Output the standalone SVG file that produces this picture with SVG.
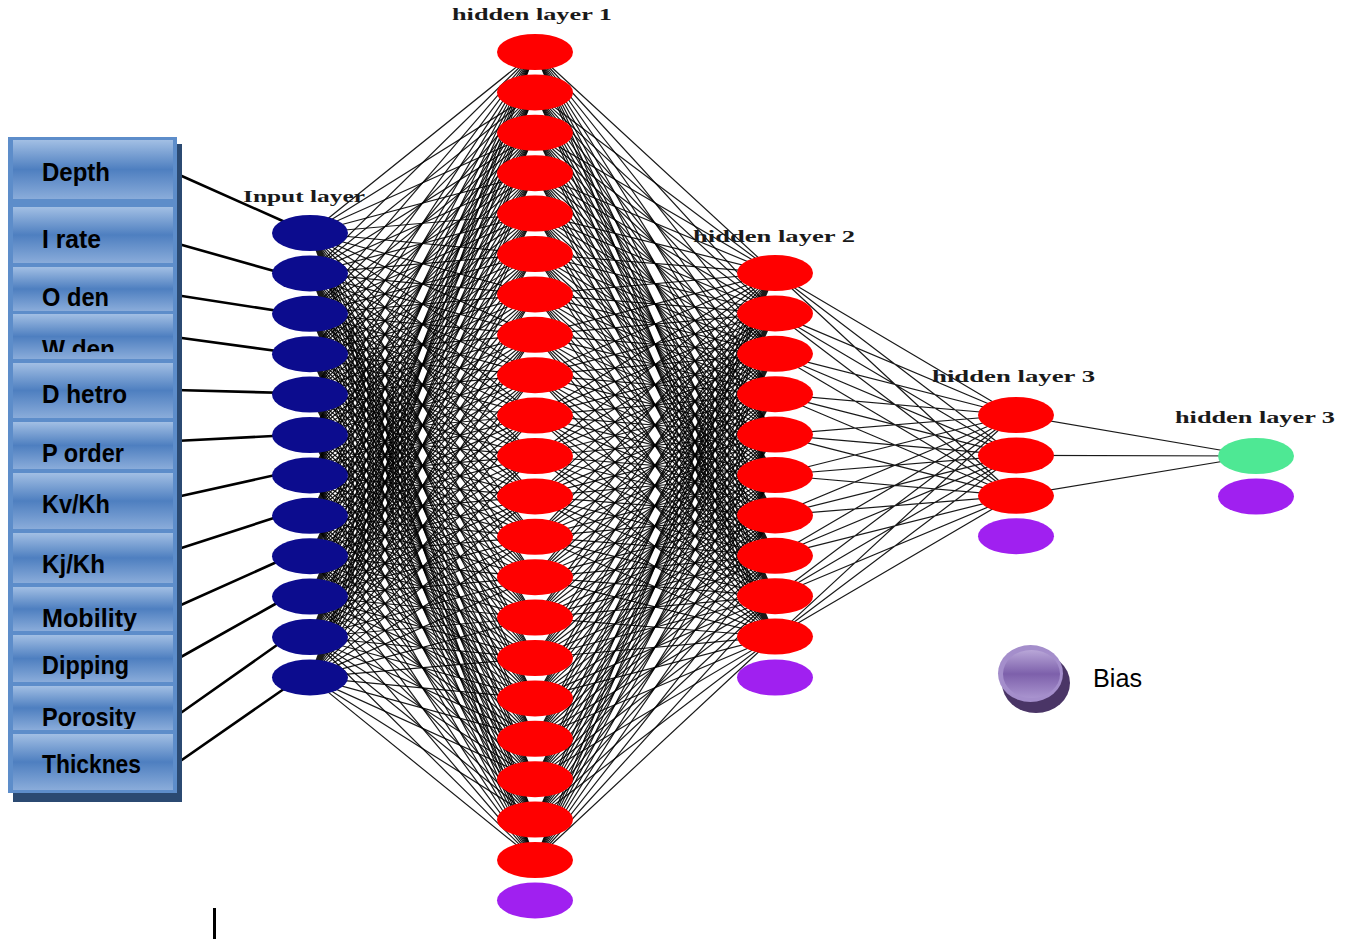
<svg xmlns="http://www.w3.org/2000/svg" width="1351" height="943" viewBox="0 0 1351 943">
<style>
.w{stroke:#000;stroke-width:1.2;fill:none;stroke-opacity:0.9}
.lk{stroke:#000;stroke-width:2.6;fill:none}
.nb{fill:#0c0c8e}
.nr{fill:#ff0000}
.np{fill:#a020f0}
.ng{fill:#4ee894}
.cell{fill:url(#cg)}
.lab{font-family:"Liberation Sans",Arial,sans-serif;font-weight:bold;font-size:25px;fill:#000}
.ttl{font-family:"Liberation Serif","Times New Roman",serif;font-weight:bold;font-size:17px;fill:#1a1a1a}
</style>
<defs>
<linearGradient id="cg" x1="0" y1="0" x2="0" y2="1">
<stop offset="0" stop-color="#a2bfe4"/>
<stop offset="0.5" stop-color="#4e7fc0"/>
<stop offset="1" stop-color="#8aacda"/>
</linearGradient>
<linearGradient id="bg" x1="0" y1="0" x2="0" y2="1">
<stop offset="0" stop-color="#b9a7d8"/>
<stop offset="0.5" stop-color="#7d60ab"/>
<stop offset="1" stop-color="#a994cf"/>
</linearGradient>
<clipPath id="c4"><rect x="0" y="300" width="200" height="52"/></clipPath>
<clipPath id="c9"><rect x="0" y="580" width="200" height="51"/></clipPath>
<clipPath id="c10"><rect x="0" y="630" width="200" height="51"/></clipPath>
<clipPath id="c11"><rect x="0" y="680" width="200" height="49"/></clipPath>
</defs>
<rect width="1351" height="943" fill="#fff"/>

<g id="connectors">
<path class="w" d="M310 233L535 52M310 233L535 92.4M310 233L535 132.8M310 233L535 173.2M310 233L535 213.6M310 233L535 254M310 233L535 294.4M310 233L535 334.8M310 233L535 375.2M310 233L535 415.6M310 233L535 456M310 233L535 496.4M310 233L535 536.8M310 233L535 577.2M310 233L535 617.6M310 233L535 658M310 233L535 698.4M310 233L535 738.8M310 233L535 779.2M310 233L535 819.6M310 233L535 860"/>
<path class="w" d="M310 273.4L535 52M310 273.4L535 92.4M310 273.4L535 132.8M310 273.4L535 173.2M310 273.4L535 213.6M310 273.4L535 254M310 273.4L535 294.4M310 273.4L535 334.8M310 273.4L535 375.2M310 273.4L535 415.6M310 273.4L535 456M310 273.4L535 496.4M310 273.4L535 536.8M310 273.4L535 577.2M310 273.4L535 617.6M310 273.4L535 658M310 273.4L535 698.4M310 273.4L535 738.8M310 273.4L535 779.2M310 273.4L535 819.6M310 273.4L535 860"/>
<path class="w" d="M310 313.8L535 52M310 313.8L535 92.4M310 313.8L535 132.8M310 313.8L535 173.2M310 313.8L535 213.6M310 313.8L535 254M310 313.8L535 294.4M310 313.8L535 334.8M310 313.8L535 375.2M310 313.8L535 415.6M310 313.8L535 456M310 313.8L535 496.4M310 313.8L535 536.8M310 313.8L535 577.2M310 313.8L535 617.6M310 313.8L535 658M310 313.8L535 698.4M310 313.8L535 738.8M310 313.8L535 779.2M310 313.8L535 819.6M310 313.8L535 860"/>
<path class="w" d="M310 354.2L535 52M310 354.2L535 92.4M310 354.2L535 132.8M310 354.2L535 173.2M310 354.2L535 213.6M310 354.2L535 254M310 354.2L535 294.4M310 354.2L535 334.8M310 354.2L535 375.2M310 354.2L535 415.6M310 354.2L535 456M310 354.2L535 496.4M310 354.2L535 536.8M310 354.2L535 577.2M310 354.2L535 617.6M310 354.2L535 658M310 354.2L535 698.4M310 354.2L535 738.8M310 354.2L535 779.2M310 354.2L535 819.6M310 354.2L535 860"/>
<path class="w" d="M310 394.6L535 52M310 394.6L535 92.4M310 394.6L535 132.8M310 394.6L535 173.2M310 394.6L535 213.6M310 394.6L535 254M310 394.6L535 294.4M310 394.6L535 334.8M310 394.6L535 375.2M310 394.6L535 415.6M310 394.6L535 456M310 394.6L535 496.4M310 394.6L535 536.8M310 394.6L535 577.2M310 394.6L535 617.6M310 394.6L535 658M310 394.6L535 698.4M310 394.6L535 738.8M310 394.6L535 779.2M310 394.6L535 819.6M310 394.6L535 860"/>
<path class="w" d="M310 435L535 52M310 435L535 92.4M310 435L535 132.8M310 435L535 173.2M310 435L535 213.6M310 435L535 254M310 435L535 294.4M310 435L535 334.8M310 435L535 375.2M310 435L535 415.6M310 435L535 456M310 435L535 496.4M310 435L535 536.8M310 435L535 577.2M310 435L535 617.6M310 435L535 658M310 435L535 698.4M310 435L535 738.8M310 435L535 779.2M310 435L535 819.6M310 435L535 860"/>
<path class="w" d="M310 475.4L535 52M310 475.4L535 92.4M310 475.4L535 132.8M310 475.4L535 173.2M310 475.4L535 213.6M310 475.4L535 254M310 475.4L535 294.4M310 475.4L535 334.8M310 475.4L535 375.2M310 475.4L535 415.6M310 475.4L535 456M310 475.4L535 496.4M310 475.4L535 536.8M310 475.4L535 577.2M310 475.4L535 617.6M310 475.4L535 658M310 475.4L535 698.4M310 475.4L535 738.8M310 475.4L535 779.2M310 475.4L535 819.6M310 475.4L535 860"/>
<path class="w" d="M310 515.8L535 52M310 515.8L535 92.4M310 515.8L535 132.8M310 515.8L535 173.2M310 515.8L535 213.6M310 515.8L535 254M310 515.8L535 294.4M310 515.8L535 334.8M310 515.8L535 375.2M310 515.8L535 415.6M310 515.8L535 456M310 515.8L535 496.4M310 515.8L535 536.8M310 515.8L535 577.2M310 515.8L535 617.6M310 515.8L535 658M310 515.8L535 698.4M310 515.8L535 738.8M310 515.8L535 779.2M310 515.8L535 819.6M310 515.8L535 860"/>
<path class="w" d="M310 556.2L535 52M310 556.2L535 92.4M310 556.2L535 132.8M310 556.2L535 173.2M310 556.2L535 213.6M310 556.2L535 254M310 556.2L535 294.4M310 556.2L535 334.8M310 556.2L535 375.2M310 556.2L535 415.6M310 556.2L535 456M310 556.2L535 496.4M310 556.2L535 536.8M310 556.2L535 577.2M310 556.2L535 617.6M310 556.2L535 658M310 556.2L535 698.4M310 556.2L535 738.8M310 556.2L535 779.2M310 556.2L535 819.6M310 556.2L535 860"/>
<path class="w" d="M310 596.6L535 52M310 596.6L535 92.4M310 596.6L535 132.8M310 596.6L535 173.2M310 596.6L535 213.6M310 596.6L535 254M310 596.6L535 294.4M310 596.6L535 334.8M310 596.6L535 375.2M310 596.6L535 415.6M310 596.6L535 456M310 596.6L535 496.4M310 596.6L535 536.8M310 596.6L535 577.2M310 596.6L535 617.6M310 596.6L535 658M310 596.6L535 698.4M310 596.6L535 738.8M310 596.6L535 779.2M310 596.6L535 819.6M310 596.6L535 860"/>
<path class="w" d="M310 637L535 52M310 637L535 92.4M310 637L535 132.8M310 637L535 173.2M310 637L535 213.6M310 637L535 254M310 637L535 294.4M310 637L535 334.8M310 637L535 375.2M310 637L535 415.6M310 637L535 456M310 637L535 496.4M310 637L535 536.8M310 637L535 577.2M310 637L535 617.6M310 637L535 658M310 637L535 698.4M310 637L535 738.8M310 637L535 779.2M310 637L535 819.6M310 637L535 860"/>
<path class="w" d="M310 677.4L535 52M310 677.4L535 92.4M310 677.4L535 132.8M310 677.4L535 173.2M310 677.4L535 213.6M310 677.4L535 254M310 677.4L535 294.4M310 677.4L535 334.8M310 677.4L535 375.2M310 677.4L535 415.6M310 677.4L535 456M310 677.4L535 496.4M310 677.4L535 536.8M310 677.4L535 577.2M310 677.4L535 617.6M310 677.4L535 658M310 677.4L535 698.4M310 677.4L535 738.8M310 677.4L535 779.2M310 677.4L535 819.6M310 677.4L535 860"/>

<path class="w" d="M775 273L535 52M775 273L535 92.4M775 273L535 132.8M775 273L535 173.2M775 273L535 213.6M775 273L535 254M775 273L535 294.4M775 273L535 334.8M775 273L535 375.2M775 273L535 415.6M775 273L535 456M775 273L535 496.4M775 273L535 536.8M775 273L535 577.2M775 273L535 617.6M775 273L535 658M775 273L535 698.4M775 273L535 738.8M775 273L535 779.2M775 273L535 819.6M775 273L535 860"/>
<path class="w" d="M775 313.4L535 52M775 313.4L535 92.4M775 313.4L535 132.8M775 313.4L535 173.2M775 313.4L535 213.6M775 313.4L535 254M775 313.4L535 294.4M775 313.4L535 334.8M775 313.4L535 375.2M775 313.4L535 415.6M775 313.4L535 456M775 313.4L535 496.4M775 313.4L535 536.8M775 313.4L535 577.2M775 313.4L535 617.6M775 313.4L535 658M775 313.4L535 698.4M775 313.4L535 738.8M775 313.4L535 779.2M775 313.4L535 819.6M775 313.4L535 860"/>
<path class="w" d="M775 353.8L535 52M775 353.8L535 92.4M775 353.8L535 132.8M775 353.8L535 173.2M775 353.8L535 213.6M775 353.8L535 254M775 353.8L535 294.4M775 353.8L535 334.8M775 353.8L535 375.2M775 353.8L535 415.6M775 353.8L535 456M775 353.8L535 496.4M775 353.8L535 536.8M775 353.8L535 577.2M775 353.8L535 617.6M775 353.8L535 658M775 353.8L535 698.4M775 353.8L535 738.8M775 353.8L535 779.2M775 353.8L535 819.6M775 353.8L535 860"/>
<path class="w" d="M775 394.2L535 52M775 394.2L535 92.4M775 394.2L535 132.8M775 394.2L535 173.2M775 394.2L535 213.6M775 394.2L535 254M775 394.2L535 294.4M775 394.2L535 334.8M775 394.2L535 375.2M775 394.2L535 415.6M775 394.2L535 456M775 394.2L535 496.4M775 394.2L535 536.8M775 394.2L535 577.2M775 394.2L535 617.6M775 394.2L535 658M775 394.2L535 698.4M775 394.2L535 738.8M775 394.2L535 779.2M775 394.2L535 819.6M775 394.2L535 860"/>
<path class="w" d="M775 434.6L535 52M775 434.6L535 92.4M775 434.6L535 132.8M775 434.6L535 173.2M775 434.6L535 213.6M775 434.6L535 254M775 434.6L535 294.4M775 434.6L535 334.8M775 434.6L535 375.2M775 434.6L535 415.6M775 434.6L535 456M775 434.6L535 496.4M775 434.6L535 536.8M775 434.6L535 577.2M775 434.6L535 617.6M775 434.6L535 658M775 434.6L535 698.4M775 434.6L535 738.8M775 434.6L535 779.2M775 434.6L535 819.6M775 434.6L535 860"/>
<path class="w" d="M775 475L535 52M775 475L535 92.4M775 475L535 132.8M775 475L535 173.2M775 475L535 213.6M775 475L535 254M775 475L535 294.4M775 475L535 334.8M775 475L535 375.2M775 475L535 415.6M775 475L535 456M775 475L535 496.4M775 475L535 536.8M775 475L535 577.2M775 475L535 617.6M775 475L535 658M775 475L535 698.4M775 475L535 738.8M775 475L535 779.2M775 475L535 819.6M775 475L535 860"/>
<path class="w" d="M775 515.4L535 52M775 515.4L535 92.4M775 515.4L535 132.8M775 515.4L535 173.2M775 515.4L535 213.6M775 515.4L535 254M775 515.4L535 294.4M775 515.4L535 334.8M775 515.4L535 375.2M775 515.4L535 415.6M775 515.4L535 456M775 515.4L535 496.4M775 515.4L535 536.8M775 515.4L535 577.2M775 515.4L535 617.6M775 515.4L535 658M775 515.4L535 698.4M775 515.4L535 738.8M775 515.4L535 779.2M775 515.4L535 819.6M775 515.4L535 860"/>
<path class="w" d="M775 555.8L535 52M775 555.8L535 92.4M775 555.8L535 132.8M775 555.8L535 173.2M775 555.8L535 213.6M775 555.8L535 254M775 555.8L535 294.4M775 555.8L535 334.8M775 555.8L535 375.2M775 555.8L535 415.6M775 555.8L535 456M775 555.8L535 496.4M775 555.8L535 536.8M775 555.8L535 577.2M775 555.8L535 617.6M775 555.8L535 658M775 555.8L535 698.4M775 555.8L535 738.8M775 555.8L535 779.2M775 555.8L535 819.6M775 555.8L535 860"/>
<path class="w" d="M775 596.2L535 52M775 596.2L535 92.4M775 596.2L535 132.8M775 596.2L535 173.2M775 596.2L535 213.6M775 596.2L535 254M775 596.2L535 294.4M775 596.2L535 334.8M775 596.2L535 375.2M775 596.2L535 415.6M775 596.2L535 456M775 596.2L535 496.4M775 596.2L535 536.8M775 596.2L535 577.2M775 596.2L535 617.6M775 596.2L535 658M775 596.2L535 698.4M775 596.2L535 738.8M775 596.2L535 779.2M775 596.2L535 819.6M775 596.2L535 860"/>
<path class="w" d="M775 636.6L535 52M775 636.6L535 92.4M775 636.6L535 132.8M775 636.6L535 173.2M775 636.6L535 213.6M775 636.6L535 254M775 636.6L535 294.4M775 636.6L535 334.8M775 636.6L535 375.2M775 636.6L535 415.6M775 636.6L535 456M775 636.6L535 496.4M775 636.6L535 536.8M775 636.6L535 577.2M775 636.6L535 617.6M775 636.6L535 658M775 636.6L535 698.4M775 636.6L535 738.8M775 636.6L535 779.2M775 636.6L535 819.6M775 636.6L535 860"/>

<path class="w" d="M775 273L1015 415M775 273L1015 455.4M775 273L1015 495.8M775 313.4L1015 415M775 313.4L1015 455.4M775 313.4L1015 495.8M775 353.8L1015 415M775 353.8L1015 455.4M775 353.8L1015 495.8M775 394.2L1015 415M775 394.2L1015 455.4M775 394.2L1015 495.8M775 434.6L1015 415M775 434.6L1015 455.4M775 434.6L1015 495.8M775 475L1015 415M775 475L1015 455.4M775 475L1015 495.8M775 515.4L1015 415M775 515.4L1015 455.4M775 515.4L1015 495.8M775 555.8L1015 415M775 555.8L1015 455.4M775 555.8L1015 495.8M775 596.2L1015 415M775 596.2L1015 455.4M775 596.2L1015 495.8M775 636.6L1015 415M775 636.6L1015 455.4M775 636.6L1015 495.8"/>
<path class="w" d="M1015 415L1255 456M1015 455.4L1255 456M1015 495.8L1255 456"/>

<path class="lk" d="M175 173L285 222M175 243L292 276M169 294L285 312M167 336L277 351M175 390L288 393M175 441L292 435M172 498L280 474M169 552L280 516M172 609L279 561M172 662L277 603M175 717L277 645M176 764L291 684"/>
</g>

<g id="labels">
<rect x="13" y="144" width="169" height="658" fill="#2b4a72"/>
<rect x="8" y="137" width="169" height="656" fill="#5d8dca"/>
<g id="lb1"><rect class="cell" x="13" y="140" width="160" height="59"/><text class="lab" x="42" y="181" textLength="68" lengthAdjust="spacingAndGlyphs">Depth</text></g>
<g id="lb2"><rect class="cell" x="13" y="207" width="160" height="56"/><text class="lab" x="42" y="248" textLength="59" lengthAdjust="spacingAndGlyphs">I rate</text></g>
<g id="lb3"><rect class="cell" x="13" y="267" width="160" height="44"/><text class="lab" x="42" y="306" textLength="67" lengthAdjust="spacingAndGlyphs">O den</text></g>
<g id="lb4"><rect class="cell" x="13" y="314" width="160" height="45"/><text class="lab" x="42" y="358" textLength="73" lengthAdjust="spacingAndGlyphs" clip-path="url(#c4)">W den</text></g>
<g id="lb5"><rect class="cell" x="13" y="363" width="160" height="55"/><text class="lab" x="42" y="403" textLength="85" lengthAdjust="spacingAndGlyphs">D hetro</text></g>
<g id="lb6"><rect class="cell" x="13" y="422" width="160" height="47"/><text class="lab" x="42" y="462" textLength="82" lengthAdjust="spacingAndGlyphs">P order</text></g>
<g id="lb7"><rect class="cell" x="13" y="473" width="160" height="56"/><text class="lab" x="42" y="513" textLength="68" lengthAdjust="spacingAndGlyphs">Kv/Kh</text></g>
<g id="lb8"><rect class="cell" x="13" y="533" width="160" height="50"/><text class="lab" x="42" y="573" textLength="63" lengthAdjust="spacingAndGlyphs">Kj/Kh</text></g>
<g id="lb9"><rect class="cell" x="13" y="587" width="160" height="44"/><text class="lab" x="42" y="627" textLength="95" lengthAdjust="spacingAndGlyphs" clip-path="url(#c9)">Mobility</text></g>
<g id="lb10"><rect class="cell" x="13" y="635" width="160" height="47"/><text class="lab" x="42" y="674" textLength="87" lengthAdjust="spacingAndGlyphs" clip-path="url(#c10)">Dipping</text></g>
<g id="lb11"><rect class="cell" x="13" y="686" width="160" height="44"/><text class="lab" x="42" y="726" textLength="94" lengthAdjust="spacingAndGlyphs" clip-path="url(#c11)">Porosity</text></g>
<g id="lb12"><rect class="cell" x="13" y="734" width="160" height="56"/><text class="lab" x="42" y="773" textLength="99" lengthAdjust="spacingAndGlyphs">Thicknes</text></g>
</g>

<g id="input-layer">
<g id="i1"><ellipse class="nb" cx="310" cy="233" rx="38" ry="18"/></g>
<g id="i2"><ellipse class="nb" cx="310" cy="273.4" rx="38" ry="18"/></g>
<g id="i3"><ellipse class="nb" cx="310" cy="313.8" rx="38" ry="18"/></g>
<g id="i4"><ellipse class="nb" cx="310" cy="354.2" rx="38" ry="18"/></g>
<g id="i5"><ellipse class="nb" cx="310" cy="394.6" rx="38" ry="18"/></g>
<g id="i6"><ellipse class="nb" cx="310" cy="435" rx="38" ry="18"/></g>
<g id="i7"><ellipse class="nb" cx="310" cy="475.4" rx="38" ry="18"/></g>
<g id="i8"><ellipse class="nb" cx="310" cy="515.8" rx="38" ry="18"/></g>
<g id="i9"><ellipse class="nb" cx="310" cy="556.2" rx="38" ry="18"/></g>
<g id="i10"><ellipse class="nb" cx="310" cy="596.6" rx="38" ry="18"/></g>
<g id="i11"><ellipse class="nb" cx="310" cy="637" rx="38" ry="18"/></g>
<g id="i12"><ellipse class="nb" cx="310" cy="677.4" rx="38" ry="18"/></g>
</g>

<g id="hidden-layer-1">
<g id="h1_1"><ellipse class="nr" cx="535" cy="52" rx="38" ry="18"/></g>
<g id="h1_2"><ellipse class="nr" cx="535" cy="92.4" rx="38" ry="18"/></g>
<g id="h1_3"><ellipse class="nr" cx="535" cy="132.8" rx="38" ry="18"/></g>
<g id="h1_4"><ellipse class="nr" cx="535" cy="173.2" rx="38" ry="18"/></g>
<g id="h1_5"><ellipse class="nr" cx="535" cy="213.6" rx="38" ry="18"/></g>
<g id="h1_6"><ellipse class="nr" cx="535" cy="254" rx="38" ry="18"/></g>
<g id="h1_7"><ellipse class="nr" cx="535" cy="294.4" rx="38" ry="18"/></g>
<g id="h1_8"><ellipse class="nr" cx="535" cy="334.8" rx="38" ry="18"/></g>
<g id="h1_9"><ellipse class="nr" cx="535" cy="375.2" rx="38" ry="18"/></g>
<g id="h1_10"><ellipse class="nr" cx="535" cy="415.6" rx="38" ry="18"/></g>
<g id="h1_11"><ellipse class="nr" cx="535" cy="456" rx="38" ry="18"/></g>
<g id="h1_12"><ellipse class="nr" cx="535" cy="496.4" rx="38" ry="18"/></g>
<g id="h1_13"><ellipse class="nr" cx="535" cy="536.8" rx="38" ry="18"/></g>
<g id="h1_14"><ellipse class="nr" cx="535" cy="577.2" rx="38" ry="18"/></g>
<g id="h1_15"><ellipse class="nr" cx="535" cy="617.6" rx="38" ry="18"/></g>
<g id="h1_16"><ellipse class="nr" cx="535" cy="658" rx="38" ry="18"/></g>
<g id="h1_17"><ellipse class="nr" cx="535" cy="698.4" rx="38" ry="18"/></g>
<g id="h1_18"><ellipse class="nr" cx="535" cy="738.8" rx="38" ry="18"/></g>
<g id="h1_19"><ellipse class="nr" cx="535" cy="779.2" rx="38" ry="18"/></g>
<g id="h1_20"><ellipse class="nr" cx="535" cy="819.6" rx="38" ry="18"/></g>
<g id="h1_21"><ellipse class="nr" cx="535" cy="860" rx="38" ry="18"/></g>
<g id="h1_bias"><ellipse class="np" cx="535" cy="900.4" rx="38" ry="18"/></g>
</g>

<g id="hidden-layer-2">
<g id="h2_1"><ellipse class="nr" cx="775" cy="273" rx="38" ry="18"/></g>
<g id="h2_2"><ellipse class="nr" cx="775" cy="313.4" rx="38" ry="18"/></g>
<g id="h2_3"><ellipse class="nr" cx="775" cy="353.8" rx="38" ry="18"/></g>
<g id="h2_4"><ellipse class="nr" cx="775" cy="394.2" rx="38" ry="18"/></g>
<g id="h2_5"><ellipse class="nr" cx="775" cy="434.6" rx="38" ry="18"/></g>
<g id="h2_6"><ellipse class="nr" cx="775" cy="475" rx="38" ry="18"/></g>
<g id="h2_7"><ellipse class="nr" cx="775" cy="515.4" rx="38" ry="18"/></g>
<g id="h2_8"><ellipse class="nr" cx="775" cy="555.8" rx="38" ry="18"/></g>
<g id="h2_9"><ellipse class="nr" cx="775" cy="596.2" rx="38" ry="18"/></g>
<g id="h2_10"><ellipse class="nr" cx="775" cy="636.6" rx="38" ry="18"/></g>
<g id="h2_bias"><ellipse class="np" cx="775" cy="677.5" rx="38" ry="18"/></g>
</g>

<g id="hidden-layer-3">
<g id="h3_1"><ellipse class="nr" cx="1016" cy="415" rx="38" ry="18"/></g>
<g id="h3_2"><ellipse class="nr" cx="1016" cy="455.4" rx="38" ry="18"/></g>
<g id="h3_3"><ellipse class="nr" cx="1016" cy="495.8" rx="38" ry="18"/></g>
<g id="h3_bias"><ellipse class="np" cx="1016" cy="536.2" rx="38" ry="18"/></g>
</g>

<g id="output-layer">
<g id="out1"><ellipse class="ng" cx="1256" cy="456" rx="38" ry="18"/></g>
<g id="out_bias"><ellipse class="np" cx="1256" cy="496.5" rx="38" ry="18"/></g>
</g>

<g id="titles">
<text class="ttl" x="452" y="20" textLength="160" lengthAdjust="spacingAndGlyphs">hidden layer 1</text>
<text class="ttl" x="243" y="202" textLength="122" lengthAdjust="spacingAndGlyphs">Input layer</text>
<text class="ttl" x="693" y="242" textLength="162" lengthAdjust="spacingAndGlyphs">hidden layer 2</text>
<text class="ttl" x="932" y="382" textLength="163" lengthAdjust="spacingAndGlyphs">hidden layer 3</text>
<text class="ttl" x="1175" y="423" textLength="160" lengthAdjust="spacingAndGlyphs">hidden layer 3</text>
</g>

<g id="bias-legend">
<ellipse cx="1036" cy="683" rx="34" ry="30" fill="#4a3566"/>
<ellipse cx="1030.5" cy="673.5" rx="32.5" ry="28.5" fill="#a48ecb"/>
<ellipse cx="1031.5" cy="674" rx="28.5" ry="24" fill="url(#bg)"/>
<text x="1093" y="687" font-family="'Liberation Sans',Arial,sans-serif" font-size="26" textLength="49" lengthAdjust="spacingAndGlyphs" fill="#000">Bias</text>
</g>

<rect x="213" y="908" width="3" height="31" fill="#000"/>
</svg>
